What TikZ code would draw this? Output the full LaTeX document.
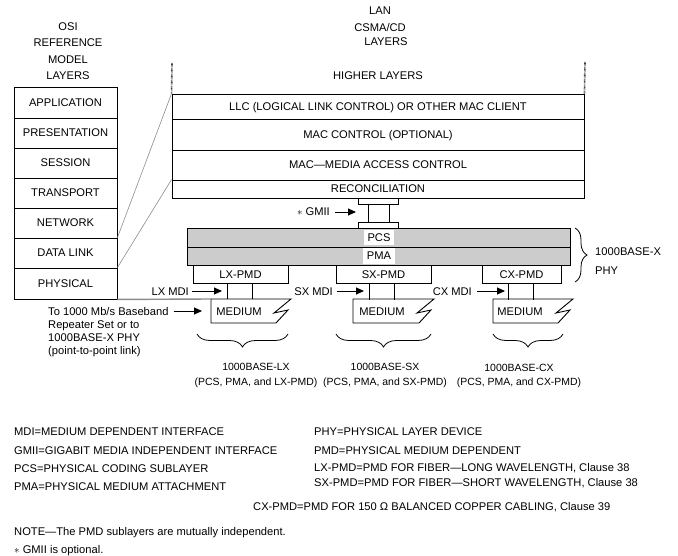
\documentclass[tikz,border=0pt]{standalone}
\usepackage{fontspec}
\setmainfont{Liberation Sans}
\usetikzlibrary{arrows.meta,decorations.pathreplacing}
\newcommand\mediumpath[2]{%
  \draw[ln] (#1,299) -- (#2,299) -- ({#2-17},313) -- ({#2-3},310) -- ({#2-15},323) -- (#1,323) -- cycle;}
\begin{document}
\begin{tikzpicture}[x=1bp,y=-1bp,
  every node/.style={font=\fontsize{11.2}{13}\selectfont, inner sep=0pt, text height=8bp, text depth=0pt},
  ln/.style={line width=0.9bp, line join=miter},
  lay/.style={draw, line width=0.9bp},
  hatch/.style={draw, line width=0.9bp, fill=black!20},
  lbl/.style={fill=white, inner xsep=4bp, inner ysep=3.5bp},
  thin/.style={draw=black!45, line width=0.6bp},
  dots/.style={draw=black!75, line width=1.6bp, dash pattern=on 0.6bp off 0.6bp},
  arr/.style={-{Triangle[length=8bp,width=7bp]}, line width=0.9bp},
  brc/.style={decorate, decoration={brace, amplitude=#1}, line width=0.8bp},
  captxt/.style={font=\fontsize{10.5}{13}\selectfont},
  leg/.style={anchor=west}]
\useasboundingbox (0,0) rectangle (678,556);

% ---- OSI headers
\node (osi1) at (68,27) {OSI};
\node (osi2) at (68,43) {REFERENCE};
\node (osi3) at (68,60) {MODEL};
\node (osi4) at (68,76) {LAYERS};

% ---- OSI stack
\node[lay, minimum width=103bp, minimum height=31bp] (app)  at (65.5,102.5) {APPLICATION};
\node[lay, minimum width=103bp, minimum height=30bp] (pres) at (65.5,133) {PRESENTATION};
\node[lay, minimum width=103bp, minimum height=30bp] (sess) at (65.5,163) {SESSION};
\node[lay, minimum width=103bp, minimum height=30bp] (trans) at (65.5,193) {TRANSPORT};
\node[lay, minimum width=103bp, minimum height=30bp] (net)  at (65.5,223) {NETWORK};
\node[lay, minimum width=103bp, minimum height=30bp] (dl)   at (65.5,253) {DATA LINK};
\node[lay, minimum width=103bp, minimum height=31bp] (phys) at (65.5,283.5) {PHYSICAL};

% ---- LAN headers
\node (lan1) at (380,11) {LAN};
\node (lan2) at (380,28) {CSMA/CD};
\node (lan3) at (386,42) {LAYERS};
\node (higher) at (378,76) {HIGHER LAYERS};
\coordinate (dlt) at (172,63);
\coordinate (drt) at (585,62);

% ---- LAN stack
\node[lay, minimum width=412bp, minimum height=25bp] (llc) at (378,106.5) {LLC (LOGICAL LINK CONTROL) OR OTHER MAC CLIENT};
\node[lay, minimum width=412bp, minimum height=31bp] (macc) at (378,134.5) {MAC CONTROL (OPTIONAL)};
\node[lay, minimum width=412bp, minimum height=30bp] (mac) at (378,165) {MAC—MEDIA ACCESS CONTROL};
\node[lay, minimum width=412bp, minimum height=18bp] (recon) at (378,189) {RECONCILIATION};

\draw[dots] (dlt) -- (llc.north west);
\draw[dots] (drt) -- (llc.north east);

% ---- mapping lines
\draw[thin] (dl.north east) -- (llc.north west);
\draw[thin] (phys.north east) -- (recon.north west);

% ---- GMII
\draw[ln] (358,198) -- (358,204) -- (398,204) -- (398,198);
\draw[ln] (368,204) -- (368,222);
\draw[ln] (389,204) -- (389,222);
\draw[ln] (358,228) -- (358,222) -- (398,222) -- (398,228);
\node[anchor=east] (gmii) at (330,212) {$\ast$ GMII};
\coordinate (gmiiend) at (356,212);
\draw[arr, shorten <=5bp] (gmii.east) -- (gmiiend);

% ---- PCS / PMA
\node[hatch, minimum width=383bp, minimum height=19bp] (pcs) at (378.5,237.5) {};
\node[hatch, minimum width=383bp, minimum height=18bp] (pma) at (378.5,256) {};
\node[lbl] (pcsl) at (379,237.5) {PCS};
\node[lbl] (pmal) at (379,256) {PMA};

% ---- PMDs
\node[lay, minimum width=95bp, minimum height=18bp] (lxpmd) at (240.5,274) {LX-PMD};
\node[lay, minimum width=95bp, minimum height=18bp] (sxpmd) at (383.5,274) {SX-PMD};
\node[lay, minimum width=79bp, minimum height=18bp] (cxpmd) at (521.5,274) {CX-PMD};

% ---- MDI connectors
\draw[ln] (227,283) -- (227,299);
\draw[ln] (252,283) -- (252,299);
\draw[ln] (369,283) -- (369,300);
\draw[ln] (394,283) -- (394,300);
\draw[ln] (508,283) -- (508,300);
\draw[ln] (533,283) -- (533,300);

% ---- Media
\mediumpath{211}{291}
\mediumpath{353}{434}
\mediumpath{493}{573}
\node (medlx) at (239,311) {MEDIUM};
\node (medsx) at (382,311) {MEDIUM};
\node (medcx) at (520,311) {MEDIUM};
\coordinate (medlxtl) at (211,299);
\draw[thin, line width=1.4bp] (phys.south east) -- (medlxtl);

% ---- MDI labels
\node[anchor=east] (lxmdi) at (189,291) {LX MDI};
\node[anchor=east] (sxmdi) at (333,291) {SX MDI};
\node[anchor=east] (cxmdi) at (472,291) {CX MDI};
\coordinate (lxe) at (222,291);
\coordinate (sxe) at (364,291);
\coordinate (cxe) at (505,291);
\draw[arr, shorten <=3bp] (lxmdi.east) -- (lxe);
\draw[arr, shorten <=4bp] (sxmdi.east) -- (sxe);
\draw[arr, shorten <=5bp] (cxmdi.east) -- (cxe);

% ---- To repeater
\node[anchor=west] (to1) at (48,311) {To 1000 Mb/s Baseband};
\node[anchor=west] (to2) at (48,324) {Repeater Set or to};
\node[anchor=west] (to3) at (48,337) {1000BASE-X PHY};
\node[anchor=west] (to4) at (48,350) {(point-to-point link)};
\coordinate (toe) at (202,311);
\draw[arr, shorten <=5bp] (to1.east) -- (toe);

% ---- PHY brace
\draw[brc=12bp] (575,228) -- (575,282);
\node[anchor=west] (phy1) at (595,252) {1000BASE-X};
\node[anchor=west] (phy2) at (595,270) {PHY};

% ---- bottom braces
\draw[brc=13bp] (288,334) -- (197,334);
\draw[brc=13bp] (431,334) -- (336,334);
\draw[brc=13bp] (563,334) -- (493,334);

\node[captxt] (c1a) at (256,366) {1000BASE-LX};
\node[captxt] (c1b) at (256,381) {(PCS, PMA, and LX-PMD)};
\node[captxt] (c2a) at (385,366) {1000BASE-SX};
\node[captxt] (c2b) at (385,381) {(PCS, PMA, and SX-PMD)};
\node[captxt] (c3a) at (519,367) {1000BASE-CX};
\node[captxt] (c3b) at (519,381) {(PCS, PMA, and CX-PMD)};

% ---- legend
\node[leg] (l1) at (14,431) {MDI=MEDIUM DEPENDENT INTERFACE};
\node[leg] (l2) at (14,450) {GMII=GIGABIT MEDIA INDEPENDENT INTERFACE};
\node[leg] (l3) at (14,468) {PCS=PHYSICAL CODING SUBLAYER};
\node[leg] (l4) at (14,486) {PMA=PHYSICAL MEDIUM ATTACHMENT};
\node[leg] (r1) at (314,431) {PHY=PHYSICAL LAYER DEVICE};
\node[leg] (r2) at (314,450) {PMD=PHYSICAL MEDIUM DEPENDENT};
\node[leg] (r3) at (314,467) {LX-PMD=PMD FOR FIBER—LONG WAVELENGTH, Clause 38};
\node[leg] (r4) at (314,482) {SX-PMD=PMD FOR FIBER—SHORT WAVELENGTH, Clause 38};
\node[leg] (cx) at (253,506) {CX-PMD=PMD FOR 150 Ω BALANCED COPPER CABLING, Clause 39};
\node[leg] (note) at (14,531) {NOTE—The PMD sublayers are mutually independent.};
\node[leg] (opt) at (14,549) {$\ast$ GMII is optional.};
\end{tikzpicture}
\end{document}
